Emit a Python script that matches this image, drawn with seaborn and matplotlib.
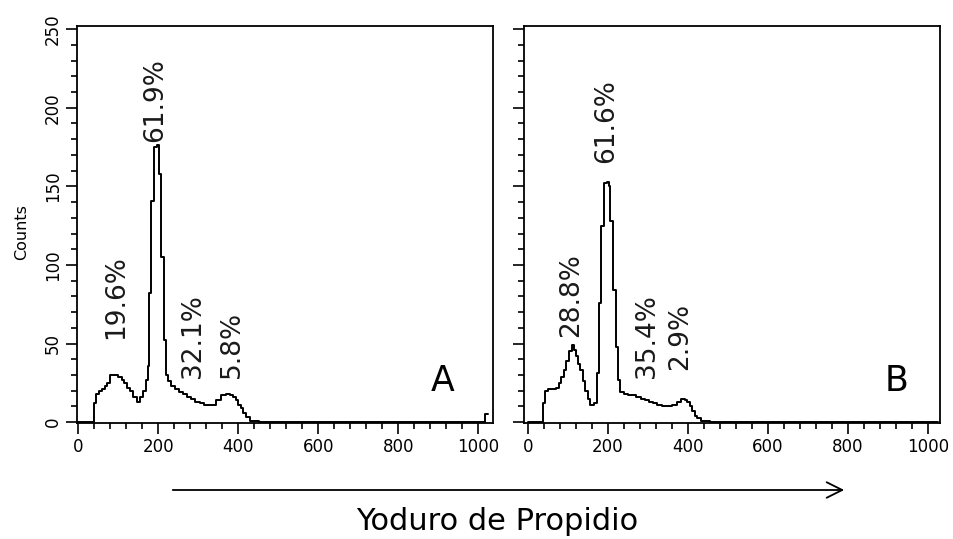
import matplotlib
matplotlib.use("Agg")
import matplotlib.pyplot as plt
from matplotlib.ticker import MultipleLocator
import seaborn as sns
import pandas as pd

# ---- data (channel, counts) ----
chan_a = [0, 30, 38, 42, 47, 55, 63, 70, 75, 84, 95, 105, 112, 118, 126, 134, 142, 151,
          159, 166, 172, 176, 180, 186, 192, 200, 205, 211, 217, 223, 228, 238, 247, 257,
          267, 277, 288, 298, 309, 320, 338, 350, 363, 375, 384, 391, 397, 403, 409, 415,
          422, 435, 447, 455, 1012, 1020, 1024]
counts_a = [0, 0, 0, 12, 18, 20, 21, 23, 25, 30, 30, 29, 27, 25, 22, 20, 16, 13,
            16, 20, 27, 36, 82, 141, 175, 176, 158, 105, 52, 30, 26, 23, 21, 19,
            18, 16, 15, 13, 12, 11, 11, 14, 17, 18, 17, 16, 14, 11, 9, 6,
            3, 1, 1, 0, 0, 5, 5]

chan_b = [0, 30, 36, 40, 47, 55, 65, 75, 80, 86, 92, 98, 105, 113, 118, 122, 128, 134,
          140, 147, 152, 157, 163, 169, 174, 180, 186, 194, 200, 203, 209, 216, 222, 227,
          234, 245, 255, 265, 276, 287, 297, 307, 317, 330, 342, 355, 367, 378, 388, 395,
          401, 407, 413, 420, 426, 438, 450, 460, 1024]
counts_b = [0, 0, 0, 12, 20, 21, 21, 22, 25, 29, 33, 39, 45, 49, 46, 42, 37, 33,
            26, 20, 15, 11, 11, 12, 31, 76, 125, 152, 153, 150, 128, 84, 48, 27,
            19, 18, 17, 17, 16, 15, 14, 13, 12, 11, 10, 10, 11, 13, 15, 14,
            13, 10, 7, 4, 2.5, 1, 1, 0, 0]

labels_a = ["19.6%", "61.9%", "32.1%", "5.8%"]
label_pos_a = [(96, 53), (192, 178), (286, 28), (384, 28)]
labels_b = ["28.8%", "61.6%", "35.4%", "2.9%"]
label_pos_b = [(107, 54), (195, 165), (297, 28), (381, 33)]
panel_letters = ["A", "B"]

x_ticks = [0, 200, 400, 600, 800, 1000]
x_ticklabels = ["0", "200", "400", "600", "800", "1000"]
y_ticks = [0, 50, 100, 150, 200, 250]

sns.set_style("ticks")
plt.rcParams["font.family"] = ["DejaVu Sans"]
plt.rcParams["text.color"] = "black"
plt.rcParams["xtick.color"] = "black"
plt.rcParams["ytick.color"] = "black"
plt.rcParams["axes.labelcolor"] = "black"

fig = plt.figure(figsize=(9.54, 5.39), dpi=100)
W, H = 954, 539
ax_a = fig.add_axes([77 / W, (H - 423) / H, 416 / W, 397 / H])
ax_b = fig.add_axes([524 / W, (H - 423) / H, 416 / W, 397 / H])

df_a = pd.DataFrame({"chan": chan_a, "counts": counts_a})
df_b = pd.DataFrame({"chan": chan_b, "counts": counts_b})

for ax, df, labs, pos, letter, xlim in [
    (ax_a, df_a, labels_a, label_pos_a, "A", (-3, 1037)),
    (ax_b, df_b, labels_b, label_pos_b, "B", (-10, 1030)),
]:
    sns.lineplot(data=df, x="chan", y="counts", ax=ax, color="black",
                 linewidth=1.4, drawstyle="steps-mid", estimator=None, sort=False)
    ax.set_xlim(*xlim)
    ax.set_ylim(-0.5, 252)
    ax.set_xticks(x_ticks)
    ax.set_xticklabels(x_ticklabels)
    ax.set_yticks(y_ticks)
    ax.xaxis.set_minor_locator(MultipleLocator(40))
    ax.yaxis.set_minor_locator(MultipleLocator(10))
    ax.tick_params(which="major", direction="out", length=8, width=1.2,
                   color="black", labelcolor="black", labelsize=12, pad=3)
    ax.tick_params(which="minor", direction="out", length=4, width=1.2, color="black")
    ax.set_xlabel("")
    ax.set_ylabel("")
    for s in ax.spines.values():
        s.set_visible(True)
        s.set_linewidth(1.3)
        s.set_color("black")
    for t, (px, py) in zip(labs, pos):
        ax.text(px, py, t, rotation=90, ha="center", va="bottom",
                fontsize=19, color="#1a1a1a")
    ax.text(0.88 if letter == "A" else 0.895, 0.08, letter, transform=ax.transAxes,
            ha="center", va="baseline", fontsize=25, color="black")

ax_a.tick_params(axis="y", labelrotation=90, labelsize=12)
for lab in ax_a.get_yticklabels():
    lab.set_va("center")
ax_b.tick_params(axis="y", labelleft=False)

fig.text(22 / W, 1 - 232 / H, "Counts", rotation=90, ha="center", va="center",
         fontsize=11.5, color="black")

fig.add_artist(matplotlib.patches.FancyArrowPatch(
    (170 / W, 1 - 490 / H), (847 / W, 1 - 490 / H), transform=fig.transFigure,
    arrowstyle="->", mutation_scale=28, linewidth=1.3, color="black"))
fig.text(497 / W, 1 - 521 / H, "Yoduro de Propidio", ha="center", va="center",
         fontsize=22, color="black")

fig.savefig("out.png", dpi=100)
